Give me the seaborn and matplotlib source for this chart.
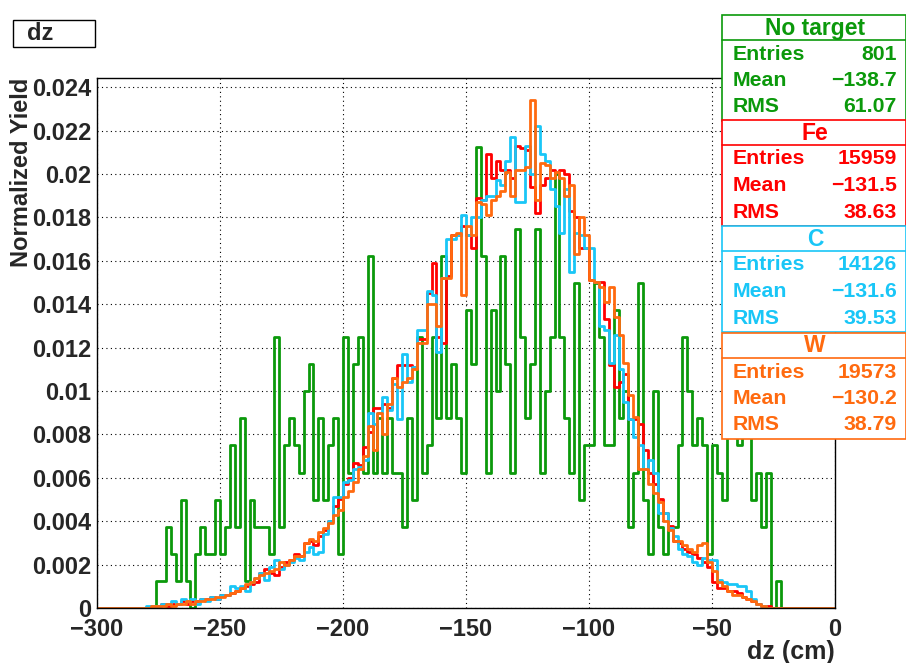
import numpy as np
import pandas as pd
import seaborn as sns
import matplotlib.pyplot as plt
from matplotlib.patches import Rectangle

# dz histograms, 2 cm bins; lists start at the bin [-280, -278] and end at [-22, -20]
first_edge = -280
bin_width = 2

no_target_counts = [
    0, 0, 1, 1, 3, 2, 1, 4, 1, 0,
    2, 3, 2, 2, 4, 2, 3, 6, 3, 7,
    1, 4, 3, 3, 3, 2, 10, 3, 6, 7,
    6, 5, 8, 9, 4, 7, 4, 6, 7, 2,
    10, 5, 9, 10, 5, 13, 5, 7, 5, 7,
    5, 5, 3, 7, 4, 10, 5, 6, 10, 7,
    13, 7, 9, 7, 5, 11, 9, 17, 13, 5,
    11, 8, 13, 9, 5, 14, 10, 7, 9, 14,
    5, 8, 10, 16, 10, 7, 5, 12, 4, 6,
    6, 12, 10, 6, 6, 11, 7, 8, 3, 5,
    12, 4, 2, 8, 3, 2, 3, 3, 6, 10,
    8, 6, 7, 6, 2, 6, 5, 4, 8, 7,
    6, 8, 7, 4, 5, 3, 5, 0, 1, 0,
]

fe_yield = [
    0, 0.0001, 0.0001, 0.0002, 0.0001, 0.0002, 0.0002, 0.0003, 0.0002, 0.0003,
    0.0003, 0.0004, 0.0004, 0.0005, 0.0004, 0.0006, 0.0006, 0.0007, 0.0008, 0.0009,
    0.0010, 0.0011, 0.0012, 0.0016, 0.0018, 0.0016, 0.0015, 0.0019, 0.0021, 0.0022,
    0.0025, 0.0024, 0.0030, 0.0031, 0.0029, 0.0033, 0.0036, 0.0040, 0.0047, 0.0050,
    0.0057, 0.0060, 0.0067, 0.0066, 0.0074, 0.0081, 0.0092, 0.0092, 0.0094, 0.0092,
    0.0106, 0.0112, 0.0112, 0.0112, 0.0111, 0.0124, 0.0124, 0.0145, 0.0159, 0.0125,
    0.0122, 0.0153, 0.0172, 0.0172, 0.0176, 0.0172, 0.0166, 0.0189, 0.0188, 0.0209,
    0.0198, 0.0206, 0.0202, 0.0202, 0.0198, 0.0213, 0.0212, 0.0211, 0.0194, 0.0182,
    0.0195, 0.0198, 0.0202, 0.0201, 0.0202, 0.0200, 0.0183, 0.0180, 0.0166, 0.0166,
    0.0151, 0.0150, 0.0150, 0.0133, 0.0112, 0.0102, 0.0104, 0.0108, 0.0087, 0.0087,
    0.0085, 0.0073, 0.0062, 0.0057, 0.0050, 0.0044, 0.0038, 0.0031, 0.0030, 0.0027,
    0.0026, 0.0025, 0.0023, 0.0021, 0.0019, 0.0012, 0.0009, 0.0009, 0.0008, 0.0008,
    0.0007, 0.0005, 0.0004, 0.0003, 0.0002, 0.0001, 0.0001, 0, 0, 0,
]

c_yield = [
    0.0001, 0.0001, 0.0001, 0.0002, 0.0002, 0.0003, 0.0002, 0.0004, 0.0003, 0.0004,
    0.0002, 0.0004, 0.0003, 0.0005, 0.0004, 0.0006, 0.0006, 0.0010, 0.0009, 0.0010,
    0.0008, 0.0012, 0.0014, 0.0016, 0.0013, 0.0019, 0.0022, 0.0018, 0.0020, 0.0021,
    0.0023, 0.0022, 0.0026, 0.0028, 0.0025, 0.0026, 0.0034, 0.0040, 0.0051, 0.0051,
    0.0058, 0.0059, 0.0064, 0.0065, 0.0068, 0.0090, 0.0085, 0.0090, 0.0097, 0.0091,
    0.0103, 0.0087, 0.0117, 0.0104, 0.0111, 0.0128, 0.0128, 0.0146, 0.0144, 0.0118,
    0.0152, 0.0170, 0.0170, 0.0172, 0.0181, 0.0172, 0.0180, 0.0180, 0.0188, 0.0190,
    0.0190, 0.0197, 0.0195, 0.0206, 0.0217, 0.0187, 0.0187, 0.0213, 0.0200, 0.0222,
    0.0209, 0.0206, 0.0193, 0.0185, 0.0173, 0.0193, 0.0155, 0.0173, 0.0172, 0.0166,
    0.0166, 0.0150, 0.0130, 0.0128, 0.0113, 0.0126, 0.0110, 0.0095, 0.0087, 0.0079,
    0.0075, 0.0064, 0.0068, 0.0062, 0.0044, 0.0044, 0.0037, 0.0033, 0.0027, 0.0025,
    0.0024, 0.0021, 0.0020, 0.0023, 0.0022, 0.0022, 0.0013, 0.0012, 0.0011, 0.0011,
    0.0010, 0.0010, 0.0008, 0.0004, 0.0002, 0.0001, 0, 0, 0, 0,
]

w_yield = [
    0, 0.0001, 0.0001, 0.0001, 0.0002, 0.0001, 0.0002, 0.0002, 0.0003, 0.0002,
    0.0003, 0.0003, 0.0004, 0.0004, 0.0005, 0.0005, 0.0006, 0.0007, 0.0008, 0.0009,
    0.0011, 0.0012, 0.0014, 0.0015, 0.0016, 0.0017, 0.0018, 0.0021, 0.0020, 0.0022,
    0.0024, 0.0024, 0.0030, 0.0032, 0.0031, 0.0035, 0.0037, 0.0039, 0.0043, 0.0045,
    0.0051, 0.0054, 0.0058, 0.0064, 0.0070, 0.0084, 0.0073, 0.0090, 0.0080, 0.0094,
    0.0106, 0.0102, 0.0104, 0.0106, 0.0110, 0.0122, 0.0122, 0.0140, 0.0140, 0.0130,
    0.0152, 0.0152, 0.0172, 0.0173, 0.0144, 0.0176, 0.0172, 0.0187, 0.0186, 0.0181,
    0.0188, 0.0190, 0.0192, 0.0201, 0.0190, 0.0202, 0.0202, 0.0203, 0.0234, 0.0188,
    0.0205, 0.0204, 0.0198, 0.0201, 0.0198, 0.0190, 0.0195, 0.0163, 0.0180, 0.0172,
    0.0151, 0.0150, 0.0148, 0.0141, 0.0148, 0.0134, 0.0126, 0.0113, 0.0098, 0.0088,
    0.0064, 0.0064, 0.0057, 0.0053, 0.0049, 0.0040, 0.0036, 0.0031, 0.0031, 0.0029,
    0.0027, 0.0026, 0.0029, 0.0030, 0.0021, 0.0017, 0.0012, 0.0010, 0.0008, 0.0006,
    0.0006, 0.0005, 0.0004, 0.0003, 0.0002, 0.0001, 0, 0, 0, 0,
]

samples = ["No target", "Fe", "C", "W"]
colors = ["#0b990b", "#ff0000", "#19c6f7", "#ff6a0f"]
entries = ["801", "15959", "14126", "19573"]
means = ["\u2212138.7", "\u2212131.5", "\u2212131.6", "\u2212130.2"]
rms = ["61.07", "38.63", "39.53", "38.79"]

# full range -300..0, empty bins outside the listed ones
edges = np.arange(-300, 0 + bin_width, bin_width)
centers = edges[:-1] + bin_width / 2
offset = (first_edge - (-300)) // bin_width


def full_range(vals):
    out = np.zeros(len(centers))
    out[offset:offset + len(vals)] = vals
    return out


yields = [
    full_range(np.array(no_target_counts) / 801.0),
    full_range(fe_yield),
    full_range(c_yield),
    full_range(w_yield),
]

rows = []
for name, y in zip(samples, yields):
    rows.append(pd.DataFrame({"dz": centers, "yield": y, "sample": name}))
df = pd.concat(rows, ignore_index=True)

sns.set_style("white")
plt.rcParams["font.family"] = ["Liberation Sans", "DejaVu Sans"]
plt.rcParams["font.weight"] = "bold"

W, H = 906, 663
fig = plt.figure(figsize=(W / 100, H / 100), dpi=100)
ax = fig.add_axes([97 / W, 1 - 608 / H, (835 - 97) / W, (608 - 78) / H])

for name, col in zip(samples, colors):
    sns.histplot(data=df[df["sample"] == name], x="dz", weights="yield",
                 binwidth=bin_width, binrange=(-300, 0), element="step",
                 fill=False, color=col, linewidth=2, ax=ax)

ax.set_xlim(-300, 0)
ax.set_ylim(0, 0.02442)
ax.set_xticks(np.arange(-300, 1, 50))
ax.set_xticks(np.arange(-300, 1, 10), minor=True)
ax.set_yticks(np.arange(0, 0.0241, 0.002))
ax.set_yticks(np.arange(0, 0.0245, 0.0005), minor=True)
ax.set_yticklabels(["0"] + ["%g" % v for v in np.arange(0.002, 0.0241, 0.002)])
ax.set_xticklabels(["\u2212%d" % -v if v < 0 else "0" for v in range(-300, 1, 50)])
ax.tick_params(axis="both", which="both", direction="in", labelsize=17,
               top=False, right=False, color="#333333")
ax.tick_params(axis="x", which="major", length=14, width=1, pad=7)
ax.tick_params(axis="x", which="minor", length=7, width=1)
ax.tick_params(axis="y", which="major", length=19, width=1, pad=4)
ax.tick_params(axis="y", which="minor", length=9, width=1)
ax.grid(True, which="major", color="black", linestyle=(0, (1, 3)), linewidth=0.8)
for s in ax.spines.values():
    s.set_color("black")
    s.set_linewidth(1)

ax.set_xlabel("")
ax.set_ylabel("")
fig.text(835 / W, 1 - 652 / H, "dz (cm)", ha="right", va="center",
         fontsize=18, fontweight="bold")
fig.text(22 / W, 1 - 78 / H, "Normalized Yield", ha="center", va="top",
         rotation=90, fontsize=17, fontweight="bold")

# title box
fig.patches.append(Rectangle((13 / W, 1 - 47 / H), 82 / W, 27 / H,
                             transform=fig.transFigure, facecolor="white",
                             edgecolor="black", linewidth=1))
fig.text(27 / W, 1 - 34 / H, "dz", ha="left", va="center",
         fontsize=17, fontweight="bold")

# stat boxes
box_tops = [15, 120, 226, 333]
box_h = 106
for i in range(4):
    top = box_tops[i]
    col = colors[i]
    fig.patches.append(Rectangle((722 / W, 1 - (top + box_h) / H), 184 / W,
                                 box_h / H, transform=fig.transFigure,
                                 facecolor="white", edgecolor=col,
                                 linewidth=1.2, zorder=5))
    fig.lines.append(plt.Line2D([722 / W, 906 / W],
                                [1 - (top + 25) / H, 1 - (top + 25) / H],
                                transform=fig.transFigure, color=col,
                                linewidth=1.2, zorder=6))
    fig.text(815 / W, 1 - (top + 13) / H, samples[i], ha="center",
             va="center", color=col, fontsize=16.5, fontweight="bold", zorder=7)
    for j, (lab, val) in enumerate(zip(["Entries", "Mean", "RMS"],
                                       [entries[i], means[i], rms[i]])):
        yy = 1 - (top + 39 + 26.5 * j) / H
        fig.text(733 / W, yy, lab, ha="left", va="center", color=col,
                 fontsize=15.3, fontweight="bold", zorder=7)
        fig.text(897 / W, yy, val, ha="right", va="center", color=col,
                 fontsize=15.3, fontweight="bold", zorder=7)

fig.savefig("out.png", dpi=100)
